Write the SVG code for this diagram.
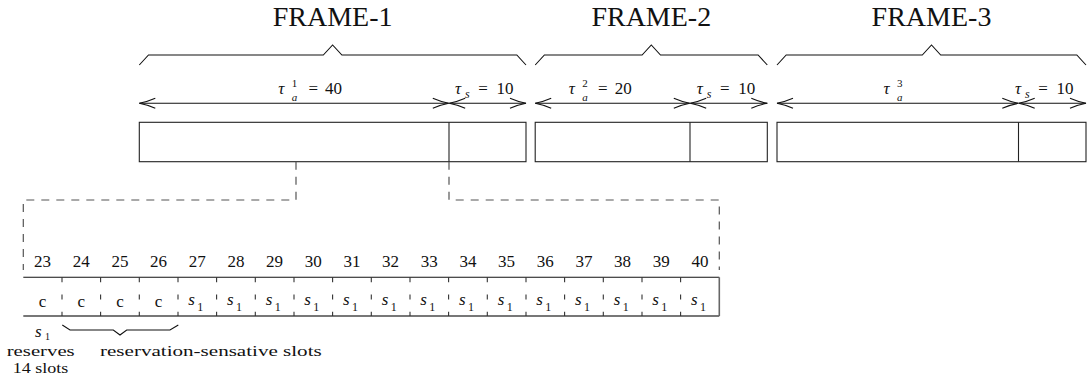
<svg xmlns="http://www.w3.org/2000/svg" width="1087" height="382" viewBox="0 0 1087 382" font-family="'Liberation Serif', 'DejaVu Serif', serif">
<defs>
<marker id="chev" markerUnits="userSpaceOnUse" viewBox="-18 -7 20 14" markerWidth="20" markerHeight="14" refX="0" refY="0" orient="auto-start-reverse">
<path d="M-16,-5 Q-8,-1.5 0,0 Q-8,1.5 -16,5" fill="none" stroke="#111" stroke-width="1.1"/>
</marker>
<style>
text{font-family:'Liberation Serif','DejaVu Serif',serif;fill:#111}
.frame{font-size:28px;text-anchor:middle}
.m{font-size:17px}
.num{font-size:17px}
.lbl{font-size:17px}
.note{font-size:15.5px}
.brace{fill:none;stroke:#111;stroke-width:1.1}
.box{fill:#fff;stroke:#222;stroke-width:1.1}
.div{stroke:#222;stroke-width:1.1}
.arr{stroke:#111;stroke-width:1.1;marker-start:url(#chev);marker-end:url(#chev)}
.dash{fill:none;stroke:#555;stroke-width:1.2;stroke-dasharray:8 7}
.sdiv{stroke:#333;stroke-width:1.1;stroke-dasharray:5 12.2}
</style>
</defs>

<g id="frame-1">
<text class="frame" x="332.6" y="26">FRAME-1</text>
<path class="brace" d="M139.3,65 L148.5,55 H323.3 L332.6,45 L341.9,55 H516.8 L526,65"/>
<line class="arr" x1="139.3" y1="103.3" x2="448.8" y2="103.3"/>
<line class="arr" x1="449.2" y1="103.3" x2="526" y2="103.3"/>
<text class="m" x="278.3" y="94"><tspan font-style="italic">τ</tspan><tspan x="291.8" dy="-7" font-size="11">1</tspan><tspan x="291.8" dy="13.5" font-size="11" font-style="italic">a</tspan><tspan x="308.5" dy="-6.5">=</tspan><tspan x="325">40</tspan></text>
<text class="m" x="455" y="94"><tspan font-style="italic">τ</tspan><tspan x="465" dy="3.5" font-size="12" font-style="italic">s</tspan><tspan x="478.3" dy="-3.5">=</tspan><tspan x="496.6">10</tspan></text>
<rect class="box" x="139.3" y="122.3" width="386.7" height="39.4"/>
<line class="div" x1="449" y1="122.3" x2="449" y2="161.7"/>
</g>

<g id="frame-2">
<text class="frame" x="651.3" y="26">FRAME-2</text>
<path class="brace" d="M535.2,65 L544.4,55 H642.1 L651.3,45 L660.5,55 H758.1 L767.3,65"/>
<line class="arr" x1="535.2" y1="103.3" x2="689.8" y2="103.3"/>
<line class="arr" x1="690.2" y1="103.3" x2="767.3" y2="103.3"/>
<text class="m" x="568.8" y="94"><tspan font-style="italic">τ</tspan><tspan x="582.3" dy="-7" font-size="11">2</tspan><tspan x="582.3" dy="13.5" font-size="11" font-style="italic">a</tspan><tspan x="598" dy="-6.5">=</tspan><tspan x="614.8">20</tspan></text>
<text class="m" x="696.7" y="94"><tspan font-style="italic">τ</tspan><tspan x="706.7" dy="3.5" font-size="12" font-style="italic">s</tspan><tspan x="720" dy="-3.5">=</tspan><tspan x="738.3">10</tspan></text>
<rect class="box" x="535.2" y="122.3" width="232.1" height="39.4"/>
<line class="div" x1="690" y1="122.3" x2="690" y2="161.7"/>
</g>

<g id="frame-3">
<text class="frame" x="931.5" y="26">FRAME-3</text>
<path class="brace" d="M777,65 L786.2,55 H922.3 L931.5,45 L940.7,55 H1076.8 L1086,65"/>
<line class="arr" x1="777" y1="103.3" x2="1018.3" y2="103.3"/>
<line class="arr" x1="1018.7" y1="103.3" x2="1086" y2="103.3"/>
<text class="m" x="883.5" y="94"><tspan font-style="italic">τ</tspan><tspan x="897" dy="-7" font-size="11">3</tspan><tspan x="897" dy="13.5" font-size="11" font-style="italic">a</tspan></text>
<text class="m" x="1015" y="94"><tspan font-style="italic">τ</tspan><tspan x="1025" dy="3.5" font-size="12" font-style="italic">s</tspan><tspan x="1038.3" dy="-3.5">=</tspan><tspan x="1056.6">10</tspan></text>
<rect class="box" x="777" y="122.3" width="309" height="39.4"/>
<line class="div" x1="1018.5" y1="122.3" x2="1018.5" y2="161.7"/>
</g>

<g id="connectors">
<path class="dash" d="M296,161.7 V200 H23.3 V270"/>
<path class="dash" d="M449,161.7 V200 H719.3 V270"/>
</g>

<g id="slots">
<g class="num" text-anchor="middle">
<text x="42.6" y="267">23</text>
<text x="81.3" y="267">24</text>
<text x="120" y="267">25</text>
<text x="158.6" y="267">26</text>
<text x="197.3" y="267">27</text>
<text x="236" y="267">28</text>
<text x="274.6" y="267">29</text>
<text x="313.3" y="267">30</text>
<text x="352" y="267">31</text>
<text x="390.6" y="267">32</text>
<text x="429.3" y="267">33</text>
<text x="468" y="267">34</text>
<text x="506.6" y="267">35</text>
<text x="545.3" y="267">36</text>
<text x="584" y="267">37</text>
<text x="622.6" y="267">38</text>
<text x="661.3" y="267">39</text>
<text x="700" y="267">40</text>
</g>
<line x1="23.3" y1="277.3" x2="719.3" y2="277.3" stroke="#111" stroke-width="1.1"/>
<line x1="23.3" y1="316" x2="719.3" y2="316" stroke="#777" stroke-width="2"/>
<line x1="719.3" y1="277.3" x2="719.3" y2="316" stroke="#666" stroke-width="1.6"/>
<g class="sdiv">
<line x1="62" y1="277.3" x2="62" y2="316"/>
<line x1="100.6" y1="277.3" x2="100.6" y2="316"/>
<line x1="139.3" y1="277.3" x2="139.3" y2="316"/>
<line x1="178" y1="277.3" x2="178" y2="316"/>
<line x1="216.6" y1="277.3" x2="216.6" y2="316"/>
<line x1="255.3" y1="277.3" x2="255.3" y2="316"/>
<line x1="294" y1="277.3" x2="294" y2="316"/>
<line x1="332.6" y1="277.3" x2="332.6" y2="316"/>
<line x1="371.3" y1="277.3" x2="371.3" y2="316"/>
<line x1="410" y1="277.3" x2="410" y2="316"/>
<line x1="448.6" y1="277.3" x2="448.6" y2="316"/>
<line x1="487.3" y1="277.3" x2="487.3" y2="316"/>
<line x1="526" y1="277.3" x2="526" y2="316"/>
<line x1="564.6" y1="277.3" x2="564.6" y2="316"/>
<line x1="603.3" y1="277.3" x2="603.3" y2="316"/>
<line x1="642" y1="277.3" x2="642" y2="316"/>
<line x1="680.6" y1="277.3" x2="680.6" y2="316"/>
</g>
<g class="lbl" text-anchor="middle">
<text x="42.6" y="306.5">c</text>
<text x="81.3" y="306.5">c</text>
<text x="120" y="306.5">c</text>
<text x="158.6" y="306.5">c</text>
</g>
<g class="lbl">
<text x="188.3" y="305"><tspan font-style="italic">s</tspan><tspan x="197.3" dy="5.5" font-size="12">1</tspan></text>
<text x="227" y="305"><tspan font-style="italic">s</tspan><tspan x="236" dy="5.5" font-size="12">1</tspan></text>
<text x="265.7" y="305"><tspan font-style="italic">s</tspan><tspan x="274.7" dy="5.5" font-size="12">1</tspan></text>
<text x="304.3" y="305"><tspan font-style="italic">s</tspan><tspan x="313.3" dy="5.5" font-size="12">1</tspan></text>
<text x="343" y="305"><tspan font-style="italic">s</tspan><tspan x="352" dy="5.5" font-size="12">1</tspan></text>
<text x="381.7" y="305"><tspan font-style="italic">s</tspan><tspan x="390.7" dy="5.5" font-size="12">1</tspan></text>
<text x="420.3" y="305"><tspan font-style="italic">s</tspan><tspan x="429.3" dy="5.5" font-size="12">1</tspan></text>
<text x="459" y="305"><tspan font-style="italic">s</tspan><tspan x="468" dy="5.5" font-size="12">1</tspan></text>
<text x="497.7" y="305"><tspan font-style="italic">s</tspan><tspan x="506.7" dy="5.5" font-size="12">1</tspan></text>
<text x="536.3" y="305"><tspan font-style="italic">s</tspan><tspan x="545.3" dy="5.5" font-size="12">1</tspan></text>
<text x="575" y="305"><tspan font-style="italic">s</tspan><tspan x="584" dy="5.5" font-size="12">1</tspan></text>
<text x="613.7" y="305"><tspan font-style="italic">s</tspan><tspan x="622.7" dy="5.5" font-size="12">1</tspan></text>
<text x="652.3" y="305"><tspan font-style="italic">s</tspan><tspan x="661.3" dy="5.5" font-size="12">1</tspan></text>
<text x="691" y="305"><tspan font-style="italic">s</tspan><tspan x="700" dy="5.5" font-size="12">1</tspan></text>
</g>
</g>

<g id="annotation-s1">
<text class="lbl" x="35" y="337"><tspan font-style="italic">s</tspan><tspan x="45" dy="3" font-size="10">1</tspan></text>
<text class="note" x="6.7" y="356.2" textLength="68" lengthAdjust="spacingAndGlyphs">reserves</text>
<text class="note" x="12.7" y="373.2" textLength="55.6" lengthAdjust="spacingAndGlyphs">14 slots</text>
</g>

<g id="annotation-sensitive">
<path class="brace" d="M62.3,325 L70,330 H113.3 L120,335 L126.7,330 H170 L178.3,325"/>
<text class="note" x="100" y="356.2" textLength="221.7" lengthAdjust="spacingAndGlyphs">reservation-sensative slots</text>
</g>
</svg>
